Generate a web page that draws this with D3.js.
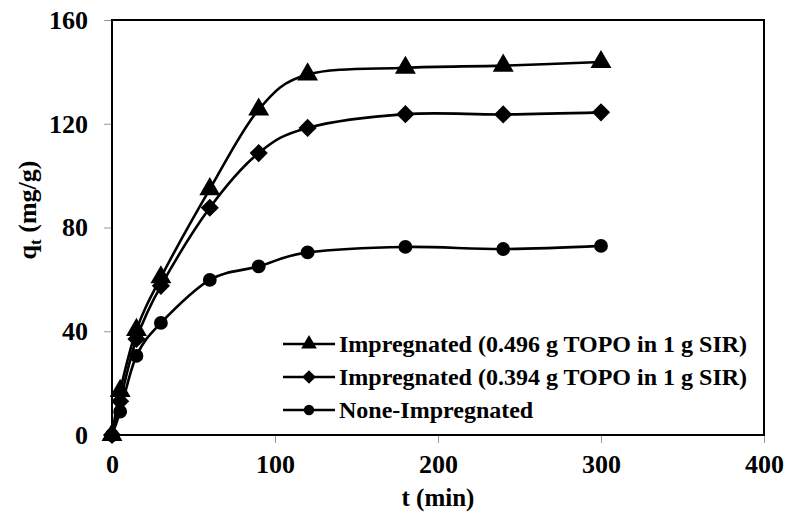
<!DOCTYPE html>
<html>
<head>
<meta charset="utf-8">
<script src="https://cdn.jsdelivr.net/npm/d3@7"></script>
<style>
    body { margin: 0; background: #fff; }
    text { font-family: "Liberation Serif", "Times New Roman", serif; font-weight: bold; fill: #000; }
</style>
</head>
<body>
<div id="container"></div>
<script>
// data
const times = [0, 5, 15, 30, 60, 90, 120, 180, 240, 300];
const topo496 = [0, 17, 40.5, 60.8, 94.8, 125.5, 139, 141.6, 142.4, 143.8];
const topo394 = [0, 13, 37, 57.5, 87.6, 108.7, 118.4, 123.7, 123.6, 124.4];
const noneImp = [0, 9, 30.5, 43.2, 59.8, 65, 70.4, 72.5, 71.7, 72.9];
const seriesNames = [
    'Impregnated (0.496 g TOPO in 1 g SIR)',
    'Impregnated (0.394 g TOPO in 1 g SIR)',
    'None-Impregnated'
];
const xTicks = [0, 100, 200, 300, 400];
const yTicks = [0, 40, 80, 120, 160];

const main = () => {
    const width = 788, height = 513;
    const margin = { left: 112, top: 20, right: 24, bottom: 78 };

    const svg = d3.select('#container')
        .append('svg')
        .attr('width', width)
        .attr('height', height);

    let xScale = d3.scaleLinear().domain([0, 400]).range([margin.left, width - margin.right]);
    let yScale = d3.scaleLinear().domain([0, 160]).range([height - margin.bottom, margin.top]);

    // axes (grey ticks, bold labels)
    let xAxis = d3.axisBottom(xScale).tickValues(xTicks).tickSize(8).tickPadding(12).tickFormat(d3.format('d'));
    let xAxisGroup = svg.append('g')
        .attr('transform', 'translate(0,' + yScale(0) + ')')
        .call(xAxis);
    xAxisGroup.selectAll('text').style('font-size', '26px');

    let yAxis = d3.axisLeft(yScale).tickValues(yTicks).tickSize(8).tickPadding(16);
    let yAxisGroup = svg.append('g')
        .attr('transform', 'translate(' + xScale(0) + ',0)')
        .call(yAxis);
    yAxisGroup.selectAll('text').style('font-size', '26px');

    svg.selectAll('.domain').remove();
    svg.selectAll('.tick line').attr('stroke', '#999').attr('stroke-width', 1);

    // plot frame
    svg.append('rect')
        .attr('x', xScale(0))
        .attr('y', yScale(160))
        .attr('width', xScale(400) - xScale(0))
        .attr('height', yScale(0) - yScale(160))
        .attr('fill', 'none')
        .attr('stroke', '#000')
        .attr('stroke-width', 2);

    // axis titles
    svg.append('text')
        .attr('x', (xScale(0) + xScale(400)) / 2)
        .attr('y', 506)
        .attr('text-anchor', 'middle')
        .style('font-size', '25px')
        .text('t (min)');

    let yTitle = svg.append('text')
        .attr('transform', 'translate(36,' + 210 + ') rotate(-90)')
        .attr('text-anchor', 'middle')
        .style('font-size', '26px');
    yTitle.append('tspan').text('q');
    yTitle.append('tspan').attr('dy', 5).style('font-size', '17px').text('t');
    yTitle.append('tspan').attr('dy', -5).text(' (mg/g)');

    const lineMaker = d3.line()
        .x((d) => xScale(d.t))
        .y((d) => yScale(d.q))
        .curve(d3.curveCatmullRom.alpha(0));

    const toPoints = (vals) => times.map((t, i) => ({ t: t, q: vals[i] }));

    const triangle = d3.symbol().type(d3.symbolTriangle).size(190);
    const diamond = d3.symbol().type(d3.symbolSquare).size(165);
    const circle = d3.symbol().type(d3.symbolCircle).size(150);

    const series = [
        { name: seriesNames[0], data: toPoints(topo496), sym: triangle, rot: 0 },
        { name: seriesNames[1], data: toPoints(topo394), sym: diamond, rot: 45 },
        { name: seriesNames[2], data: toPoints(noneImp), sym: circle, rot: 0 }
    ];

    series.forEach((s) => {
        svg.append('path')
            .datum(s.data)
            .attr('d', lineMaker)
            .attr('fill', 'none')
            .attr('stroke', '#000')
            .attr('stroke-width', 2.6);

        svg.selectAll(null).data(s.data)
            .enter()
            .append('path')
            .attr('d', s.sym)
            .attr('transform', (d) => 'translate(' + xScale(d.t) + ',' + yScale(d.q) + ') rotate(' + s.rot + ')')
            .attr('fill', '#000');
    });

    // legend
    const legendX = 283, legendY = 344, rowGap = 33;
    series.forEach((s, i) => {
        const y = legendY + i * rowGap;
        svg.append('line')
            .attr('x1', legendX).attr('x2', legendX + 52)
            .attr('y1', y).attr('y2', y)
            .attr('stroke', '#000')
            .attr('stroke-width', 2.6);
        svg.append('path')
            .attr('d', s.sym)
            .attr('transform', 'translate(' + (legendX + 26) + ',' + y + ') rotate(' + s.rot + ') scale(0.75)')
            .attr('fill', '#000');
        svg.append('text')
            .attr('x', legendX + 56)
            .attr('y', y)
            .attr('dy', '0.35em')
            .style('font-size', '24px')
            .text(s.name);
    });
};

main();
</script>
</body>
</html>
